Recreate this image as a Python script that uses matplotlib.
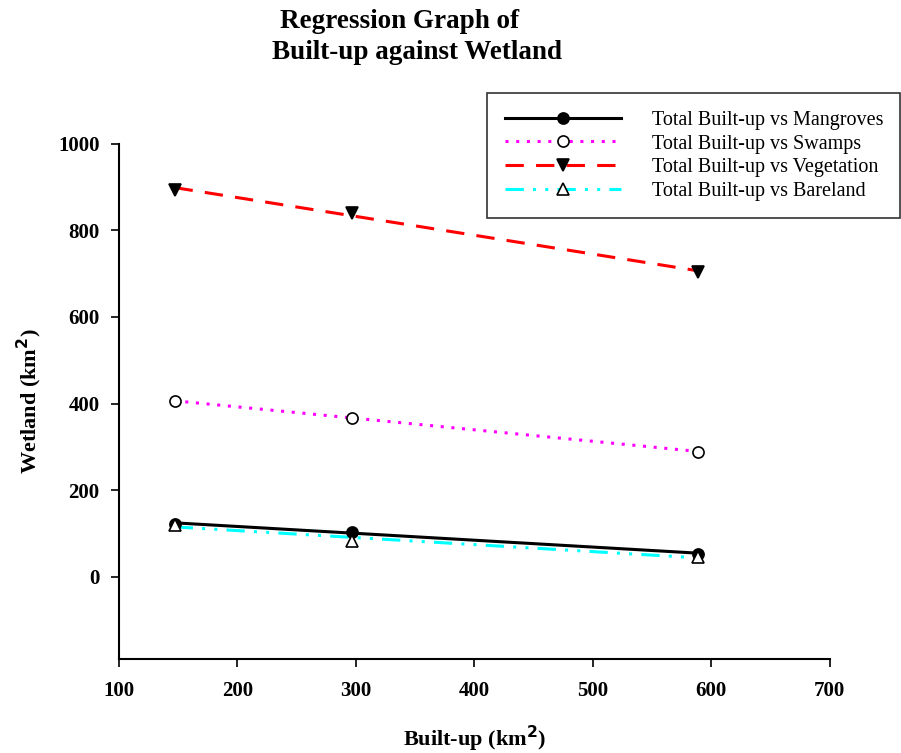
import matplotlib.pyplot as plt
import numpy as np

built_up = [147, 297, 589]
mangroves = [122, 104, 53]
swamps = [406, 367, 289]
vegetation = [894, 841, 704]
bareland = [120, 83, 46]

x_ticks = [100, 200, 300, 400, 500, 600, 700]
y_ticks = [0, 200, 400, 600, 800, 1000]

series = [
    ("Total Built-up vs Mangroves", mangroves, "black", "-", "o", "black"),
    ("Total Built-up vs Swamps", swamps, "magenta", (0, (1, 2.5)), "o", "white"),
    ("Total Built-up vs Vegetation", vegetation, "red", (0, (6, 4)), "v", "black"),
    ("Total Built-up vs Bareland", bareland, "cyan", (0, (6, 3, 1, 3, 1, 3)), "^", "white"),
]

plt.rcParams["font.family"] = ["Liberation Serif", "DejaVu Serif"]

fig = plt.figure(figsize=(9.01, 7.53), dpi=100)
ax = fig.add_axes([0.132, 0.125, 0.789, 0.684])

x = np.array(built_up, dtype=float)
for label, vals, color, ls, marker, face in series:
    slope, intercept = np.polyfit(x, vals, 1)
    fit = slope * x + intercept
    ax.plot(x, fit, color=color, ls=ls, lw=2.2, zorder=2)
    ax.plot(x, vals, ls="none", marker=marker, ms=8, mfc=face,
            mec="black", mew=1.2, zorder=3)
    ax.plot([], [], color=color, ls=ls, lw=2.2, marker=marker, ms=8,
            mfc=face, mec="black", mew=1.2, label=label)

ax.set_xlim(100, 700)
ax.set_ylim(-190, 1000)
ax.set_xticks(x_ticks)
ax.set_yticks(y_ticks)
for lbl in ax.get_xticklabels() + ax.get_yticklabels():
    lbl.set_fontweight("bold")
    lbl.set_fontsize(15)
ax.tick_params(direction="out", length=6, width=1.2)
ax.tick_params(axis="y", pad=8)
ax.tick_params(axis="x", pad=10)
ax.spines["top"].set_visible(False)
ax.spines["right"].set_visible(False)
for s in ("left", "bottom"):
    ax.spines[s].set_linewidth(1.5)

ax.set_xlabel("Built-up (km$^{\\mathbf{2}}$)", fontsize=16, fontweight="bold", labelpad=16)
ax.set_ylabel("Wetland (km$^{\\mathbf{2}}$)", fontsize=16, fontweight="bold", labelpad=10)

fig.text(0.444, 0.972, "Regression Graph of", ha="center", va="center",
         fontsize=19.5, fontweight="bold")
fig.text(0.463, 0.93, "Built-up against Wetland", ha="center", va="center",
         fontsize=19.5, fontweight="bold")

leg = fig.legend(loc="upper left", bbox_to_anchor=(0.541, 0.876), fontsize=14.5,
                 frameon=True, fancybox=False, edgecolor="black",
                 handlelength=5.8, borderpad=0.85, labelspacing=0.24,
                 handletextpad=1.5, borderaxespad=0)
leg.get_frame().set_linewidth(1.2)

fig.savefig("out.png", dpi=100)
